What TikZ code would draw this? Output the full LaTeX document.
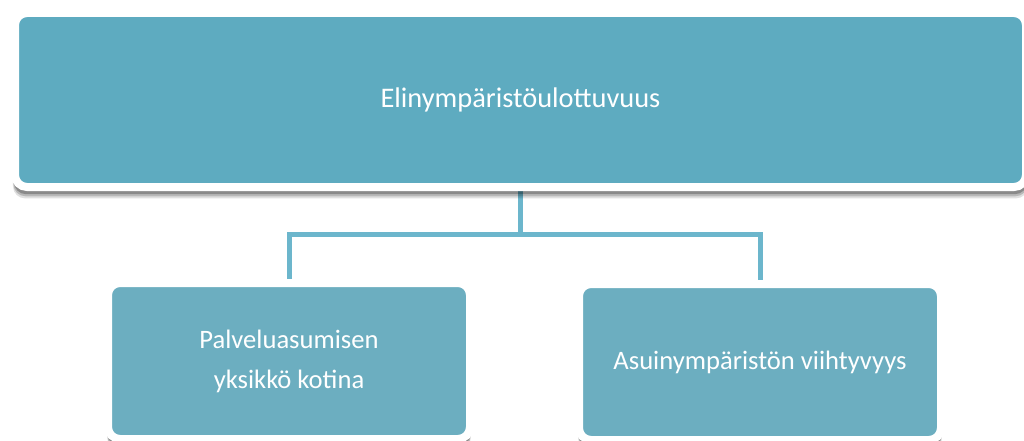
\documentclass[tikz,border=0pt]{standalone}
\usepackage{fontspec}
\setmainfont{Carlito}
\usetikzlibrary{shadows,backgrounds}
\definecolor{topteal}{HTML}{5EABC0}
\definecolor{subteal}{HTML}{6CAEC0}
\definecolor{conncol}{HTML}{6CB6CC}
\tikzset{
  x=1pt, y=-1pt,
  boxbase/.style={draw=white, line width=8pt, rounded corners=12pt,
    text=white, align=center, inner sep=0pt,
    font=\fontsize{26.6}{40}\selectfont,
    drop shadow={shadow xshift=0pt, shadow yshift=-11pt, shadow scale=1.004, opacity=0.12, fill=black},
    drop shadow={shadow xshift=0pt, shadow yshift=-9pt, shadow scale=1.003, opacity=0.18, fill=black},
    drop shadow={shadow xshift=0pt, shadow yshift=-7pt, shadow scale=1.002, opacity=0.25, fill=black}},
  topbox/.style={boxbase, fill=topteal, font=\fontsize{28.4}{40}\selectfont},
  subbox/.style={boxbase, fill=subteal},
  conn/.style={draw=conncol, line width=5pt}
}
\begin{document}
\begin{tikzpicture}
\useasboundingbox (0,0) rectangle (1024,441);
\clip (0,0) rectangle (1024,441);
\node[topbox, minimum width=1011pt, minimum height=174pt] (top) at (520.5,100) {Elinympäristöulottuvuus};
\node[subbox, minimum width=362pt, minimum height=156pt] (left) at (289,361) {Palveluasumisen\\yksikkö kotina};
\node[subbox, minimum width=362pt, minimum height=156pt] (right) at (760,362) {Asuinympäristön viihtyvyys};
\coordinate (bar) at (521,234.5);
\begin{scope}[on background layer]
\draw[conn] (top.south) -- (top.south |- bar);
\draw[conn] (left.north) -- (left.north |- bar) -- (right.north |- bar) -- (right.north);
\end{scope}
\end{tikzpicture}
\end{document}
